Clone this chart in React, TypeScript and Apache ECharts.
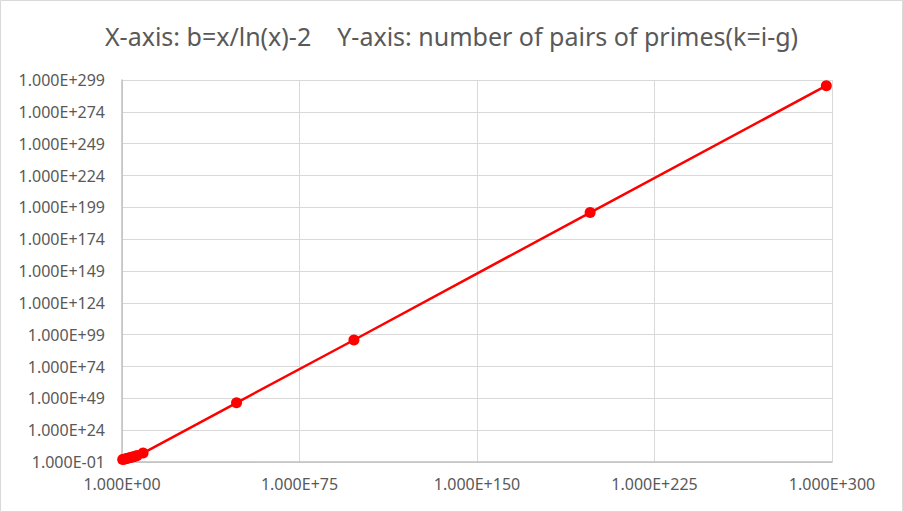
import React, { useEffect, useRef } from "react";
import * as echarts from "echarts";

// b = x/ln(x) - 2 values (x-axis) and number of pairs of primes (y-axis)
const bValues = [2.0, 6.3, 40, 250, 1600, 10000, 63000, 4.0e5, 2.5e6, 8.0e8, 2.5e48, 1.0e98, 6.3e197, 4.0e297];
const pairsValues = [9.5, 18, 40, 100, 250, 630, 1600, 4000, 11000, 1.1e6, 3.2e45, 6.3e94, 8.0e194, 3.2e294];

const xTickExponents = [0, 75, 150, 225, 300];
const yTickExponents = [-1, 24, 49, 74, 99, 124, 149, 174, 199, 224, 249, 274, 299];

const titleText = "X-axis: b=x/ln(x)-2    Y-axis: number of pairs of primes(k=i-g)";

function fmtExp(e: number): string {
  const r = Math.round(e);
  const sign = r < 0 ? "-" : "+";
  const a = Math.abs(r);
  return "1.000E" + sign + (a < 10 ? "0" + a : String(a));
}

export default function App() {
  const ref = useRef<HTMLDivElement>(null);
  useEffect(() => {
    document.body.style.margin = "0";
    if (!ref.current) return;
    const chart = echarts.init(ref.current, null, { renderer: "svg" });
    const data = bValues.map((b, i) => [Math.log10(b), Math.log10(pairsValues[i])]);
    const font = "'Noto Sans', sans-serif";
    chart.setOption({
      animation: false,
      backgroundColor: "#ffffff",
      title: {
        text: titleText,
        left: "center",
        top: 18,
        textStyle: { color: "#595959", fontSize: 25, fontWeight: "normal", fontFamily: font },
      },
      graphic: [
        {
          type: "rect",
          shape: { x: 0.5, y: 0.5, width: 902, height: 511 },
          style: { fill: "none", stroke: "#d9d9d9", lineWidth: 1 },
          silent: true,
        },
      ],
      grid: { left: 122, right: 71, top: 80, bottom: 50, containLabel: false },
      xAxis: {
        type: "value",
        min: xTickExponents[0],
        max: xTickExponents[xTickExponents.length - 1],
        interval: 75,
        axisLine: { show: true, onZero: false, lineStyle: { color: "#bfbfbf", width: 1.5 } },
        axisTick: { show: false },
        splitLine: { show: true, lineStyle: { color: "#d9d9d9", width: 1 } },
        axisLabel: {
          color: "#595959",
          fontSize: 16,
          fontFamily: font,
          margin: 14,
          formatter: (v: number) => fmtExp(v),
        },
      },
      yAxis: {
        type: "value",
        min: yTickExponents[0],
        max: yTickExponents[yTickExponents.length - 1],
        interval: 25,
        axisLine: { show: true, onZero: false, lineStyle: { color: "#bfbfbf", width: 1.5 } },
        axisTick: { show: false },
        splitLine: { show: true, lineStyle: { color: "#d9d9d9", width: 1 } },
        axisLabel: {
          color: "#595959",
          fontSize: 16,
          fontFamily: font,
          margin: 17,
          formatter: (v: number) => fmtExp(v),
        },
      },
      series: [
        {
          type: "line",
          data,
          symbol: "circle",
          symbolSize: 11,
          lineStyle: { color: "#ff0000", width: 2.5 },
          itemStyle: { color: "#ff0000" },
        },
      ],
    });
    return () => chart.dispose();
  }, []);
  return <div ref={ref} style={{ width: 903, height: 512 }} />;
}
